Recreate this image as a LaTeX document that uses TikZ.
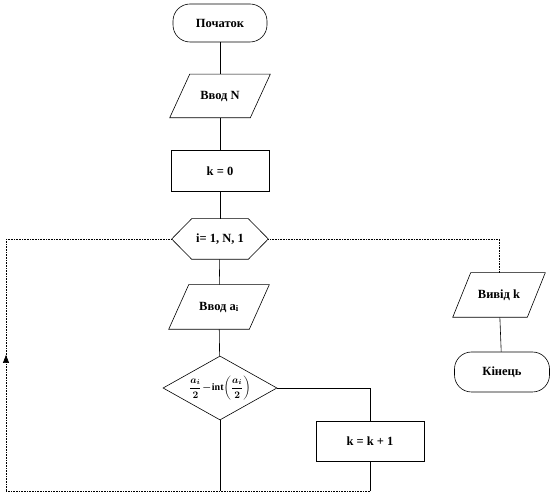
\documentclass[tikz,border=0pt]{standalone}
\usepackage{fontspec}
\setmainfont{Liberation Serif}
\usetikzlibrary{shapes.geometric,arrows.meta,decorations.markings,calc}
\newcommand{\condformula}{\ensuremath{\displaystyle\frac{a_i}{2}\!-\!\mathrm{int}\biggl(\frac{a_i}{2}\biggr)}}
\newcommand{\drawpara}[2]{\draw ($(#1.south west)$) -- ($(#1.north west)+(#2,0)$) -- (#1.north east) -- ($(#1.south east)+(-#2,0)$) -- cycle;}
\begin{document}
\begin{tikzpicture}[x=1pt,y=-1pt,line width=0.6pt,
  every node/.style={font=\fontsize{12.5}{14}\selectfont\bfseries, inner sep=0pt},
  term/.style={draw, rectangle, rounded corners=17pt, minimum width=94pt, minimum height=38pt},
  io/.style={rectangle, minimum width=100pt, minimum height=43pt},
  proc/.style={draw, rectangle, minimum width=98pt, minimum height=41pt},
  hexbox/.style={rectangle, minimum width=96pt, minimum height=40pt},
  decbox/.style={draw, diamond, aspect=1.78, minimum width=114pt, minimum height=64pt},
  loopline/.style={densely dotted},
  uparrow/.style={postaction={decorate, solid}, decoration={markings,
      mark=at position 0.54 with {\arrow{Triangle[width=6pt,length=8pt]}}}}
]
\useasboundingbox (0,0) rectangle (558,494);

\node[term] (start) at (220,23) {Початок};
\node[io] (inN) at (220,96) {Ввод N};
\drawpara{inN}{20}
\node[proc] (k0) at (220,171) {k = 0};
\node[hexbox] (loop) at (220,239) {i= 1, N, 1};
\draw (loop.west) -- ($(loop.north west)+(20,0)$) -- ($(loop.north east)+(-20,0)$)
      -- (loop.east) -- ($(loop.south east)+(-20,0)$) -- ($(loop.south west)+(20,0)$) -- cycle;
\node[io, minimum height=44pt] (inA) at (219,307) {Ввод a\textsubscript{i}};
\drawpara{inA}{20}
\node[decbox, font=\fontsize{10}{11}\selectfont\boldmath] (cond) at (220,388) {\condformula};
\node[proc, minimum width=108pt, minimum height=40pt] (inc) at (370,441) {k = k + 1};
\node[io, minimum width=92pt, minimum height=44pt] (out) at (499,295) {Вивід k};
\drawpara{out}{18}
\node[term, minimum width=95pt, minimum height=40pt] (end) at (502,372) {Кінець};

\coordinate (lt) at (6,239);
\coordinate (lb) at (6,491);
\coordinate (bb) at (220,491);
\coordinate (br) at (370,491);

\draw (start) -- (inN);
\draw (inN) -- (k0);
\draw (k0) -- (loop);
\draw (loop) -- (inA);
\draw (inA) -- (cond);
\draw (cond.south) -- (bb);
\draw (cond.east) -| (inc.north);
\draw (inc.south) -- (br);
\draw[loopline] (br) -- (bb) -- (lb);
\draw[loopline, uparrow] (lb) -- (lt);
\draw[loopline] (lt) -- (loop.west);
\draw[loopline] (loop.east) -| (out.north);
\draw (out) -- (end);
\end{tikzpicture}
\end{document}
